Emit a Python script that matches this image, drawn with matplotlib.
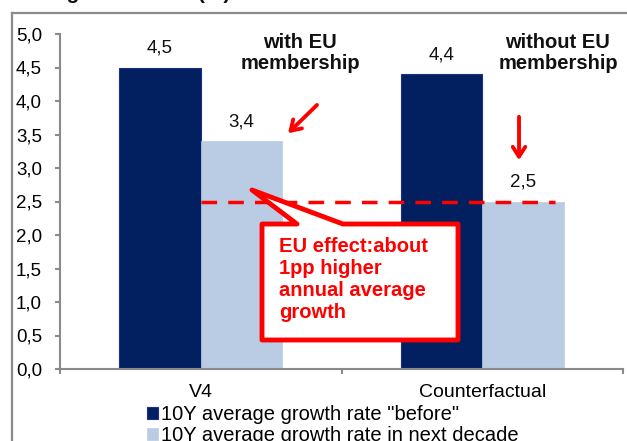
import matplotlib
matplotlib.use("Agg")
import matplotlib.pyplot as plt
from matplotlib.patches import Polygon
from matplotlib.lines import Line2D
import numpy as np

plt.rcParams['font.family'] = ['Liberation Sans', 'DejaVu Sans']

categories = ["V4", "Counterfactual"]
series_names = ['10Y average growth rate "before"', '10Y average growth rate in next decade']
before = [4.5, 4.4]
next_decade = [3.4, 2.5]
yticks = [0.0, 0.5, 1.0, 1.5, 2.0, 2.5, 3.0, 3.5, 4.0, 4.5, 5.0]

dark = '#022060'
light = '#b9cce4'
red = '#ff0000'
gray = '#8a8a8a'

W, H = 627, 441
fig = plt.figure(figsize=(W / 100, H / 100), dpi=100)
ax = fig.add_axes([60 / W, 1 - 369 / H, 563 / W, 335 / H])

x = np.arange(len(categories))
bw = 0.29
b1 = ax.bar(x - bw / 2, before, bw, color=dark, edgecolor='#1c2f8a', linewidth=0.8, label=series_names[0], zorder=2)
b2 = ax.bar(x + bw / 2, next_decade, bw, color=light, edgecolor=light, linewidth=0.5, label=series_names[1], zorder=2)

def fmt(v):
    return f"{v:.1f}".replace('.', ',')

for bars, vals in ((b1, before), (b2, next_decade)):
    for r, v in zip(bars, vals):
        ax.annotate(fmt(v), (r.get_x() + r.get_width() / 2, v), xytext=(0, 8),
                    textcoords='offset points', ha='center', va='bottom', fontsize=13.5, color='#111111')

ax.set_xlim(-0.5, 1.5)
ax.set_ylim(0, 5.0)
ax.set_yticks(yticks)
ax.set_yticklabels([fmt(v) for v in yticks], fontsize=13.5)
ax.set_xticks(x)
ax.set_xticklabels(categories, fontsize=14)
ax.set_xticks([-0.5, 0.5, 1.5], minor=True)
ax.tick_params(axis='x', which='major', length=0, pad=11)
ax.tick_params(axis='x', which='minor', length=3.6, width=1.5, color=gray, direction='out')
ax.tick_params(axis='y', length=3.6, width=1.5, color=gray, direction='out', pad=28)
for lab in ax.get_yticklabels():
    lab.set_horizontalalignment('left')
for s in ('top', 'right'):
    ax.spines[s].set_visible(False)
for s in ('left', 'bottom'):
    ax.spines[s].set_color(gray)
    ax.spines[s].set_linewidth(1.5)
ax.set_facecolor('none')

# dashed reference line at counterfactual level
ax.plot([0.0, 1.26], [next_decade[1], next_decade[1]], color=red, lw=2.5,
        dashes=(4.5, 3.2), zorder=3)

# callout box
L, R, T, B = 0.2176, 0.9139, 2.164, 0.433
tip = (0.182, 2.672)
poly = Polygon([(L, T), (0.342, T), tip, (0.505, T), (R, T), (R, B), (L, B)],
               closed=True, facecolor='white', edgecolor=red, lw=3.5, joinstyle='round', zorder=4)
ax.add_patch(poly)
ax.text(L + 0.062, T - 0.2, "EU effect:about\n1pp higher\nannual average\ngrowth", color=red,
        fontsize=14.5, fontweight='bold', ha='left', va='top', linespacing=1.18, zorder=5)

# arrows
ax.annotate('', xy=(0.303, 3.49), xytext=(0.42, 3.97),
            arrowprops=dict(arrowstyle='->,head_length=0.7,head_width=0.45', color=red, lw=2.8), zorder=5)
ax.annotate('', xy=(1.1306, 3.075), xytext=(1.1306, 3.806),
            arrowprops=dict(arrowstyle='->,head_length=0.7,head_width=0.45', color=red, lw=2.8), zorder=5)

ax.text(0.3526, 4.716, "with EU\nmembership", ha='center', va='center', fontsize=14.5,
        fontweight='bold', linespacing=1.1, color='#111111')
ax.text(1.269, 4.716, "without EU\nmembership", ha='center', va='center', fontsize=14.5,
        fontweight='bold', linespacing=1.1, color='#111111')

# outer frame
fig.add_artist(Line2D([12 / W, 12 / W], [0, 1 - 13 / H], color=gray, lw=1.6, transform=fig.transFigure))
fig.add_artist(Line2D([12 / W, 1], [1 - 13 / H, 1 - 13 / H], color=gray, lw=1.6, transform=fig.transFigure))

# title, cut off at top
fig.text(16 / W, 1 + 1 / H, "GDP growth rates (%)", fontsize=15, fontweight='bold', ha='left',
         va='baseline', color='#111111')

fig.legend(handles=[b1, b2], labels=series_names, loc='upper left',
           bbox_to_anchor=(147 / W, 1 - 405 / H), frameon=False, fontsize=14.5,
           handlelength=0.55, handleheight=0.55, handletextpad=0.15, labelspacing=0.12,
           borderpad=0, borderaxespad=0)

fig.savefig('out.png', dpi=100)
